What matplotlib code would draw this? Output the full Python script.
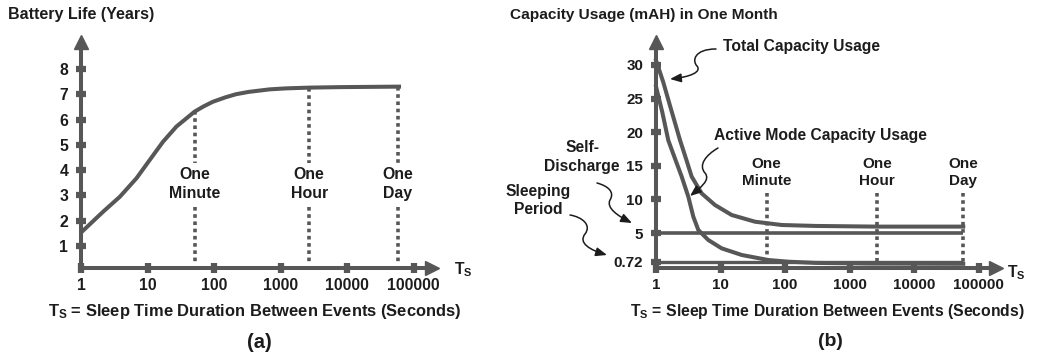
import matplotlib
matplotlib.use("Agg")
import numpy as np
import matplotlib.pyplot as plt
from matplotlib.path import Path
from matplotlib.patches import FancyArrowPatch
from matplotlib.ticker import NullLocator

plt.rcParams['font.family'] = ['Liberation Sans', 'DejaVu Sans']
plt.rcParams['font.weight'] = 'bold'
plt.rcParams['mathtext.fontset'] = 'custom'
plt.rcParams['mathtext.rm'] = 'Liberation Sans:bold'
plt.rcParams['mathtext.it'] = 'Liberation Sans:bold'
plt.rcParams['mathtext.bf'] = 'Liberation Sans:bold'
plt.rcParams['mathtext.default'] = 'rm'

# shared x axis (sleep time, seconds)
x_ticks = [1, 10, 100, 1000, 10000, 100000]
x_tick_labels = ['1', '10', '100', '1000', '10000', '100000']
event_names = ['One\nMinute', 'One\nHour', 'One\nDay']
event_ts = [52, 2700, 58000]

# (a) battery life
life_ts = [1, 2.16, 3.85, 6.84, 10.8, 17.1, 27.2, 51, 70, 96, 150, 215, 330, 680, 1200, 2700, 8000, 65000]
life_years = [1.53, 2.36, 2.95, 3.68, 4.40, 5.12, 5.72, 6.31, 6.52, 6.70, 6.88, 7.0, 7.09, 7.19, 7.23, 7.26, 7.28, 7.30]
life_yticks = [1, 2, 3, 4, 5, 6, 7, 8]

# (b) capacity usage in one month
total_ts = [1, 1.3, 1.7, 2.36, 3.0, 3.57, 5.1, 8.2, 14.9, 34.3, 89, 300, 2700, 58000]
total_mah = [30.7, 27.4, 23.5, 18.8, 15.7, 13.4, 10.9, 9.17, 7.68, 6.68, 6.19, 6.05, 5.95, 5.95]
active_ts = [1, 1.25, 1.55, 2.0, 2.5, 3.17, 3.79, 4.53, 6.46, 10.4, 21.3, 55, 112, 300, 2000, 58000]
active_mah = [26.8, 23.0, 18.8, 15.9, 13.4, 10.4, 7.43, 5.45, 3.96, 2.72, 1.73, 0.98, 0.73, 0.55, 0.45, 0.42]
flat_ts = [1, 58000]
self_discharge_mah = 5
sleeping_mah = 0.72
cap_yticks = [0.72, 5, 10, 15, 20, 25, 30]

LINE = '#575757'
TEXT = '#1c1c1c'

W, H = 1054, 353
fig = plt.figure(figsize=(W / 100, H / 100), dpi=100)


def frac(x, y):
    return x / W, 1 - y / H


def setup_axes(ax, yticks, ylabels, fs):
    for s in ['top', 'right']:
        ax.spines[s].set_visible(False)
    for s in ['left', 'bottom']:
        ax.spines[s].set_linewidth(2.9)
        ax.spines[s].set_color(LINE)
    ax.set_xscale('log')
    ax.set_xticks(x_ticks, labels=x_tick_labels)
    ax.xaxis.set_minor_locator(NullLocator())
    ax.set_yticks(yticks, labels=ylabels)
    ax.tick_params(direction='inout', length=6.5, width=4.5, color=LINE,
                   labelsize=fs, labelcolor=TEXT)
    ax.tick_params(axis='x', pad=4)
    ax.tick_params(axis='y', pad=6)
    ax.patch.set_visible(False)
    ax.plot(1, 0, '>', ms=10, color=LINE, transform=ax.transAxes, clip_on=False)
    ax.plot(0, 1, '^', ms=10, color=LINE, transform=ax.transAxes, clip_on=False)


def squiggle(pts):
    verts = [frac(*p) for p in pts]
    codes = [Path.MOVETO] + [Path.CURVE4] * (len(verts) - 1)
    arr = FancyArrowPatch(path=Path(verts, codes), transform=fig.transFigure,
                          arrowstyle='-|>,head_length=0.55,head_width=0.22',
                          mutation_scale=12, lw=1.1, color=TEXT)
    fig.add_artist(arr)


dots = dict(color=LINE, lw=2.6, ls=(0, (1, 1)), dash_capstyle='butt')
curve = dict(color=LINE, lw=2.9, solid_joinstyle='round', clip_on=False)

# ---- panel (a)
ax_a = fig.add_axes([81 / W, 1 - 268 / H, (432 - 81) / W, (268 - 42) / H])
ax_a.set_xlim(1, 10 ** ((432 - 81) / 66.5))
ax_a.set_ylim((271.3 - 268) / 25.3, (271.3 - 42) / 25.3)
setup_axes(ax_a, life_yticks, [str(v) for v in life_yticks], 11.3)
ax_a.plot(life_ts, life_years, solid_capstyle='butt', **curve)

curve_at_event = np.interp(np.log10(event_ts), np.log10(life_ts), life_years)
for name, t, top in zip(event_names, event_ts, curve_at_event):
    ax_a.plot([t, t], [top, 4.3], **dots)
    ax_a.plot([t, t], [2.56, 0.3], **dots)
    ax_a.text(t, 3.45, name, ha='center', va='center', fontsize=11.4, color=TEXT,
              linespacing=1.28)

fig.text(*frac(8, 15), 'Battery Life (Years)', ha='left', va='center', fontsize=11.5, color=TEXT)
fig.text(*frac(255, 316), r'T$_{S}$ = Sleep Time Duration Between Events (Seconds)',
         ha='center', va='baseline', fontsize=11.9, color=TEXT)
fig.text(*frac(259, 342), '(a)', ha='center', va='center', fontsize=14.5, color=TEXT)
fig.text(*frac(454, 274), r'T$_{S}$', ha='left', va='baseline', fontsize=11.3, color=TEXT)

# ---- panel (b)
ax_b = fig.add_axes([656 / W, 1 - 267.5 / H, (996 - 656) / W, (267.5 - 42) / H])
ax_b.set_xlim(1, 10 ** ((996 - 656) / 64.5))
ax_b.set_ylim((266.6 - 267.5) / 6.72, (266.6 - 42) / 6.72)
setup_axes(ax_b, cap_yticks, ['0.72', '5', '10', '15', '20', '25', '30'], 10.9)
ax_b.plot(total_ts, total_mah, **curve)
ax_b.plot(active_ts, active_mah, **curve)
ax_b.plot(flat_ts, [self_discharge_mah] * 2, color=LINE, lw=2.6, solid_capstyle='butt')
ax_b.plot(flat_ts, [sleeping_mah] * 2, color=LINE, lw=2.4, solid_capstyle='butt')

for name, t in zip(event_names, event_ts):
    ax_b.plot([t, t], [11.0, 0.35], **dots)
    ax_b.text(t, 14.0, name, ha='center', va='center', fontsize=11.0, color=TEXT,
              linespacing=1.35)

fig.text(*frac(510, 15), 'Capacity Usage (mAH) in One Month', ha='left', va='center',
         fontsize=11.1, color=TEXT)
fig.text(*frac(827, 316), r'T$_{S}$ = Sleep Time Duration Between Events (Seconds)',
         ha='center', va='baseline', fontsize=11.3, color=TEXT)
fig.text(*frac(830, 342), '(b)', ha='center', va='center', fontsize=14, color=TEXT)
fig.text(*frac(1007, 277), r'T$_{S}$', ha='left', va='baseline', fontsize=11.3, color=TEXT)

fig.text(*frac(723, 47), 'Total Capacity Usage', ha='left', va='center', fontsize=11.25, color=TEXT)
fig.text(*frac(714, 136), 'Active Mode Capacity Usage', ha='left', va='center', fontsize=11.25, color=TEXT)
fig.text(*frac(582, 157), 'Self-\nDischarge', ha='center', va='center', fontsize=11.25,
         color=TEXT, linespacing=1.3)
fig.text(*frac(538, 201), 'Sleeping\nPeriod', ha='center', va='center', fontsize=11.25,
         color=TEXT, linespacing=1.25)

squiggle([(716, 49), (694, 49), (692, 61), (697, 66), (702, 72), (690, 77), (670, 79)])
squiggle([(718, 148), (706, 155), (698, 165), (705, 173), (711, 180), (700, 188), (690, 196)])
squiggle([(597, 183), (608, 186), (615, 192), (610, 200), (606, 208), (618, 216), (632, 223)])
squiggle([(570, 215), (582, 217), (592, 225), (585, 234), (578, 243), (590, 250), (607, 255)])

fig.savefig('out.png', dpi=100)
